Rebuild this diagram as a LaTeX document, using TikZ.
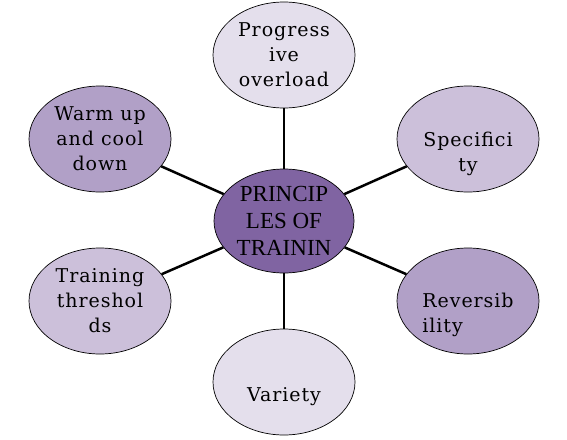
\documentclass[tikz,border=0pt]{standalone}
\usepackage{fontspec}
\setmainfont{DejaVu Serif}[LetterSpace=5]
\newfontfamily\hubfont{Liberation Serif}
\usetikzlibrary{shapes.geometric}
\definecolor{hubpurple}{HTML}{8064A2}
\definecolor{darklilac}{HTML}{B1A0C7}
\definecolor{midlilac}{HTML}{CCC0DA}
\definecolor{palelilac}{HTML}{E4DFEC}
\begin{document}
\begin{tikzpicture}[x=1pt, y=-1pt,
  bubble/.style={ellipse, draw=black, line width=0.7pt, minimum width=142pt, minimum height=106pt, inner sep=0pt},
  txt/.style={font=\fontsize{19}{25}\selectfont, align=center},
  spoke/.style={line width=2.5pt}]
  \useasboundingbox (0,0) rectangle (567,439);
  % Hub
  \node[bubble, fill=hubpurple, minimum width=140pt, minimum height=104pt,
    label={[txt, font=\hubfont\fontsize{23}{27}\selectfont]center:{PRINCIP\\LES OF\\TRAININ}}] (hub) at (284,221) {};
  % Outer principles
  \node[bubble, fill=palelilac, label={[txt]center:{Progress\\ive\\overload}}] (overload) at (284,55) {};
  \node[bubble, fill=midlilac, label={[txt, yshift=-15pt]center:{Specifici\\ty}}] (specificity) at (468,139) {};
  \node[bubble, fill=darklilac, label={[txt, align=left, yshift=-14pt]center:{Reversib\\ility}}] (reversibility) at (468,301) {};
  \node[bubble, fill=palelilac, label={[txt, yshift=-15pt]center:{Variety}}] (variety) at (284,382) {};
  \node[bubble, fill=midlilac, label={[txt]center:{Training\\threshol\\ds}}] (thresholds) at (100,301) {};
  \node[bubble, fill=darklilac, label={[txt]center:{Warm up\\and cool\\down}}] (warmup) at (100,139) {};
  % Spokes
  \foreach \p in {overload,specificity,reversibility,variety,thresholds,warmup}
    \draw[spoke] (hub) -- (\p);
\end{tikzpicture}
\end{document}
